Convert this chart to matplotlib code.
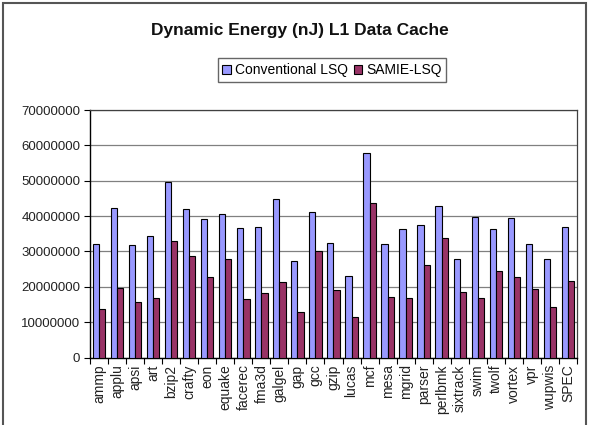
import numpy as np
import matplotlib
matplotlib.use("Agg")
import matplotlib.pyplot as plt
from matplotlib.patches import Rectangle

plt.rcParams['font.family'] = ['Liberation Sans', 'DejaVu Sans']

benchmarks = ["ammp", "applu", "apsi", "art", "bzip2", "crafty", "eon", "equake",
              "facerec", "fma3d", "galgel", "gap", "gcc", "gzip", "lucas", "mcf",
              "mesa", "mgrid", "parser", "perlbmk", "sixtrack", "swim", "twolf",
              "vortex", "vpr", "wupwis", "SPEC"]

# values in millions of nJ
conventional = [32.1, 42.3, 31.8, 34.4, 49.6, 42.0, 39.2, 40.7, 36.6, 36.9, 44.9,
                27.4, 41.1, 32.5, 23.0, 57.9, 32.1, 36.3, 37.6, 43.0, 27.8, 39.7,
                36.3, 39.5, 32.1, 27.8, 36.9]
samie = [13.7, 19.8, 15.6, 16.9, 33.0, 28.8, 22.8, 27.9, 16.6, 18.3, 21.3,
         12.8, 30.0, 19.0, 11.5, 43.6, 17.2, 16.9, 26.3, 33.9, 18.5, 16.9,
         24.5, 22.7, 19.5, 14.3, 21.6]

conventional = np.array(conventional) * 1e6
samie = np.array(samie) * 1e6

fig = plt.figure(figsize=(5.89, 4.25), dpi=100)
ax = fig.add_axes([0.1528, 0.1588, 0.8268, 0.5822])

x = np.arange(len(benchmarks))
w = 0.345
b1 = ax.bar(x - w / 2, conventional, w, color="#9999FF", edgecolor="black",
            linewidth=0.8, label="Conventional LSQ", zorder=3)
b2 = ax.bar(x + w / 2, samie, w, color="#993366", edgecolor="black",
            linewidth=0.8, label="SAMIE-LSQ", zorder=3)

ax.set_xlim(-0.5, len(benchmarks) - 0.5)
ax.set_ylim(0, 70000000)
ax.set_yticks(np.arange(0, 70000001, 10000000))
ax.set_yticklabels([str(v) for v in range(0, 70000001, 10000000)], fontsize=9.5,
                   color="#222222")
ax.yaxis.grid(True, color="#808080", linewidth=0.9, zorder=0)

ax.set_xticks(x)
ax.set_xticklabels(benchmarks, rotation=90, fontsize=10, color="#222222")
ax.tick_params(axis='x', length=0, pad=5)
# group boundary ticks
ax.set_xticks(np.arange(-0.5, len(benchmarks)), minor=True)
ax.tick_params(axis='x', which='minor', length=4, width=0.8, direction='out')
ax.tick_params(axis='y', length=4, width=0.8, direction='out', pad=3)

ax.spines['left'].set_linewidth(1.0)
ax.spines['bottom'].set_linewidth(1.0)
ax.spines['top'].set_color("#404040")
ax.spines['right'].set_color("#404040")
ax.spines['top'].set_linewidth(0.9)
ax.spines['right'].set_linewidth(0.9)

fig.text(0.5093, 0.928, "Dynamic Energy (nJ) L1 Data Cache", ha="center",
         va="center", fontsize=12.5, fontweight="bold", color="#111111")

leg = fig.legend(handles=[b1, b2], loc="center", bbox_to_anchor=(0.5637, 0.835),
                 ncol=2, fontsize=10, frameon=True, fancybox=False,
                 handlelength=0.6, handleheight=0.6, handletextpad=0.3,
                 columnspacing=0.4, borderpad=0.35, edgecolor="#404040")
leg.get_frame().set_linewidth(1.0)

# outer chart border
fig.patches.append(Rectangle((3 / 589, -0.05), 583 / 589, 1 - 3 / 425 + 0.05,
                             transform=fig.transFigure, fill=False,
                             edgecolor="#555555", linewidth=1.5))

fig.savefig("out.png", dpi=100)
